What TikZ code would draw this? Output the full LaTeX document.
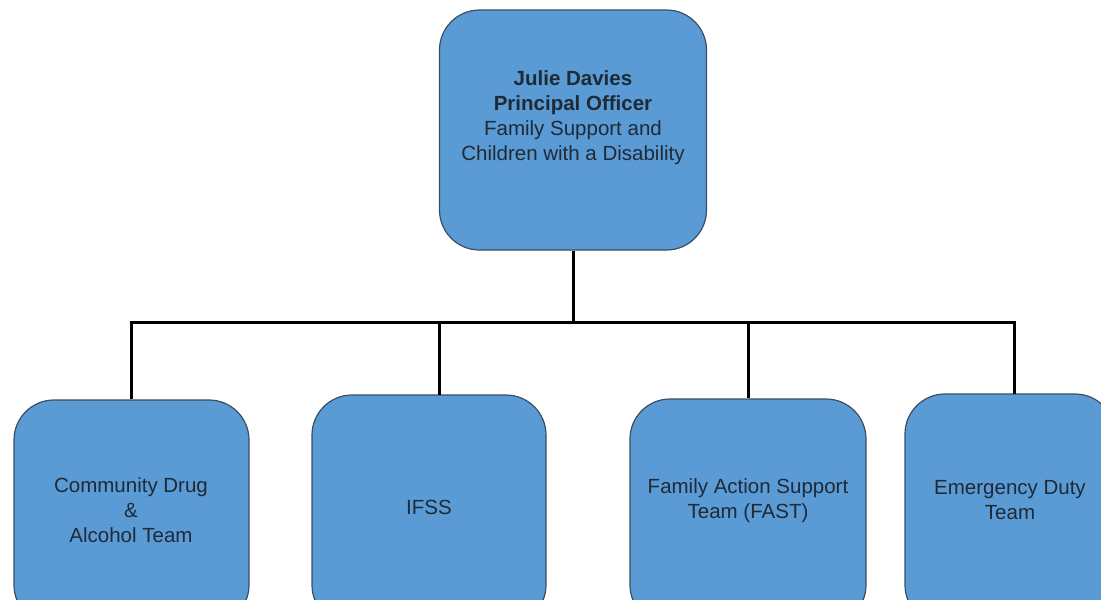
\documentclass[tikz,border=0pt]{standalone}
\usepackage{fontspec}
\setmainfont{Liberation Sans}
\definecolor{boxfill}{HTML}{5B9BD5}
\definecolor{boxline}{HTML}{3A4E63}
\definecolor{txt}{HTML}{1E2A36}
\begin{document}
\begin{tikzpicture}[x=1pt,y=-1pt,
  box/.style={draw=boxline, line width=1.2pt, fill=boxfill, rounded corners=40pt, inner sep=0pt},
  lbl/.style={font=\fontsize{20.5}{25}\selectfont, text=txt, align=center, inner sep=0pt},
  link/.style={line width=3pt, black, line join=miter}]
\useasboundingbox (0,0) rectangle (1101,600);
\clip (0,0) rectangle (1101,600);
\fill[white] (0,0) rectangle (1101,600);
% boxes
\node[box, minimum width=267pt, minimum height=240pt] (top) at (573,130) {};
\node[box, minimum width=235pt, minimum height=225pt] (b1) at (131.5,512.5) {};
\node[box, minimum width=234pt, minimum height=230pt] (b2) at (429,510) {};
\node[box, minimum width=236pt, minimum height=226pt] (b3) at (748,512) {};
\node[box, minimum width=210pt, minimum height=231pt] (b4) at (1010,509.5) {};
% texts
\node[lbl] (ttop) at (573,118) {\textbf{Julie Davies}\\\textbf{Principal Officer}\\Family Support and\\Children with a Disability};
\node[lbl] (t1) at (131,510) {Community Drug\\\&\\Alcohol Team};
\node[lbl] (t2) at (429,507) {IFSS};
\node[lbl] (t3) at (748,501) {Family Action Support\\Team (FAST)};
\node[lbl] (t4) at (1010,500) {Emergency Duty\\Team};
% connectors
\coordinate (bus) at (573,322);
\coordinate (b2top) at (439,395);
\coordinate (b4top) at (1014,394);
\draw[link] (top.south) -- (top.south |- bus);
\draw[link] (b1.north) |- (bus) -| (b4top);
\draw[link] (b2top) -- (b2top |- bus);
\draw[link] (b3.north) -- (b3.north |- bus);
\end{tikzpicture}
\end{document}
